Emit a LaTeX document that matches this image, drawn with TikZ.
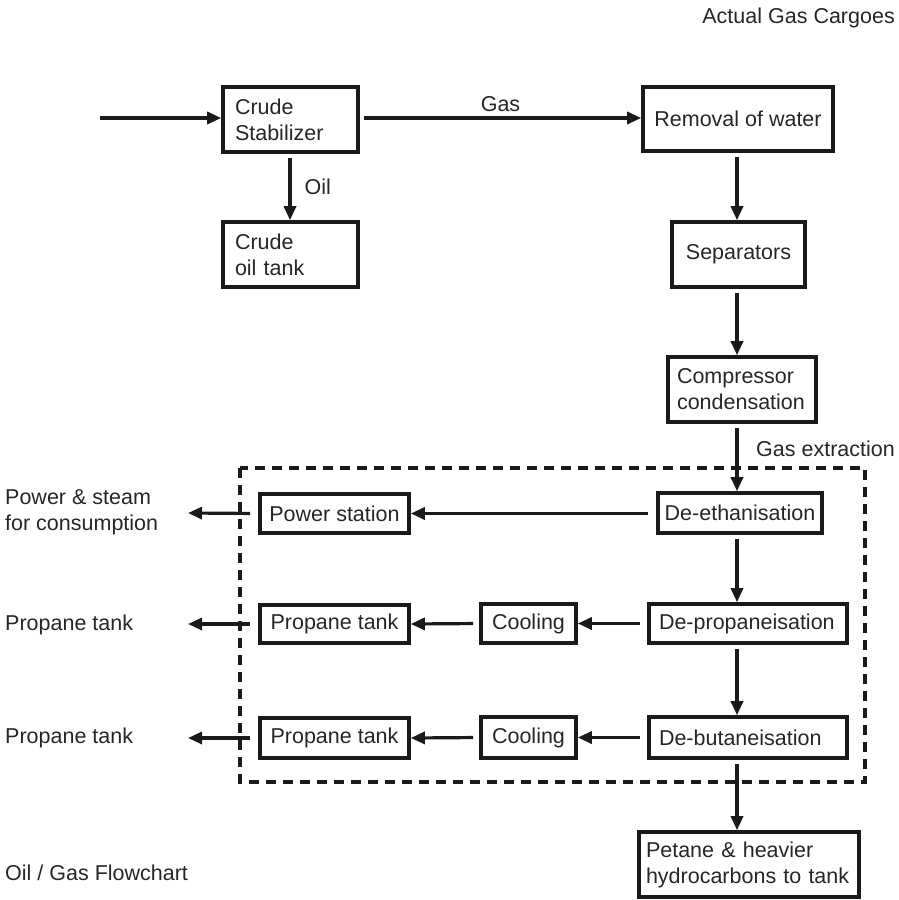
\documentclass[tikz,border=0pt]{standalone}
\usepackage{fontspec}
\setmainfont{Liberation Sans}
\usetikzlibrary{arrows.meta}
\definecolor{ink}{HTML}{1A1A1A}
\definecolor{txt}{HTML}{262626}
\begin{document}
\begin{tikzpicture}[x=1pt,y=-1pt,
  font=\fontsize{21.5}{26}\selectfont,
  every node/.style={text=txt},
  unit/.style={draw=ink,line width=3.6pt,rectangle,inner sep=0pt,anchor=center},
  lbox/.style={unit,align=left,inner xsep=10pt},
  flow/.style={draw=ink,line width=3.2pt,-{Triangle[length=14pt,width=12pt]},shorten <=4pt},
  tag/.style={inner sep=0pt,align=left},
  zone/.style={draw=ink,line width=3.4pt,dash pattern=on 10pt off 7pt}]
\useasboundingbox (0,0) rectangle (898,900);

% column guides for the vertical flows
\coordinate (cL) at (290,0);
\coordinate (cR) at (737,0);

% process units
\node[lbox,minimum width=135pt,minimum height=65pt,text width=111pt,inner xsep=12pt] (cs) at (290.5,119.5) {Crude\\Stabilizer};
\node[lbox,minimum width=135pt,minimum height=65pt,text width=111pt,inner xsep=12pt] (ct) at (290.5,254.5) {Crude\\oil tank};
\node[unit,minimum width=190pt,minimum height=64pt] (rw) at (738,119) {Removal of water};
\node[unit,minimum width=133pt,minimum height=65pt] (sp) at (738.5,254.5) {Separators};
\node[lbox,minimum width=148pt,minimum height=65pt,text width=130pt,inner xsep=9pt] (cc) at (742,389.5) {Compressor\\condensation};
\node[unit,minimum width=164pt,minimum height=40pt] (de) at (740,513) {De-ethanisation};
\node[unit,minimum width=149pt,minimum height=39pt] (ps) at (334.5,513.5) {Power station};
\node[lbox,minimum width=198pt,minimum height=39pt,text width=178pt] (dp) at (748,623.5) {De-propaneisation};
\node[unit,minimum width=95pt,minimum height=39pt] (c1) at (528.5,623.5) {Cooling};
\node[unit,minimum width=149pt,minimum height=38pt] (p1) at (334.5,624) {Propane tank};
\node[lbox,minimum width=198pt,minimum height=41pt,text width=178pt] (db) at (748,737.5) {De-butaneisation};
\node[unit,minimum width=95pt,minimum height=41pt] (c2) at (528.5,737.5) {Cooling};
\node[unit,minimum width=149pt,minimum height=40pt] (p2) at (334.5,738) {Propane tank};
\node[lbox,minimum width=220pt,minimum height=65pt,text width=206pt,inner xsep=7pt] (pt) at (749,864.5) {Petane \& heavier\\hydrocarbons to tank};

% gas extraction area
\draw[zone] (240,468) rectangle (865,782);

% free ends
\coordinate (feed) at (100,118);
\coordinate (o1) at (188,513);
\coordinate (o2) at (188,624);
\coordinate (o3) at (188,738);

% flows
\draw[flow,shorten <=0pt] (feed) -- (feed -| cs.west);
\draw[flow] (cs.east |- feed) -- node[above=5pt,inner sep=0pt] {Gas} (rw.west |- feed);
\draw[flow] (cs.south -| cL) -- node[right=13pt,inner sep=0pt] {Oil} (ct.north -| cL);
\draw[flow] (rw.south -| cR) -- (sp.north -| cR);
\draw[flow] (sp.south -| cR) -- (cc.north -| cR);
\draw[flow] (cc.south -| cR) -- (de.north -| cR);
\draw[flow] (de.south -| cR) -- (dp.north -| cR);
\draw[flow] (dp.south -| cR) -- (db.north -| cR);
\draw[flow] (db.south -| cR) -- (pt.north -| cR);
\draw[flow,shorten <=8pt] (de.west |- ps) -- (ps.east);
\draw[flow,shorten <=7pt] (dp.west) -- (c1.east);
\draw[flow,shorten <=6pt] (c1.west) -- (p1.east);
\draw[flow,shorten <=7pt] (db.west) -- (c2.east);
\draw[flow,shorten <=6pt] (c2.west) -- (p2.east);
\draw[flow,shorten <=8pt] (ps.west) -- (o1);
\draw[flow,shorten <=8pt] (p1.west) -- (o2);
\draw[flow,shorten <=8pt] (p2.west) -- (o3);

% free text
\node[tag,anchor=north east] (title) at (895,8) {Actual Gas Cargoes};
\node[tag,anchor=base east] (gx) at (895,456) {Gas extraction};
\node[tag,anchor=west] (l1) at (5,512) {Power \& steam\\for consumption};
\node[tag,anchor=west] (l2) at (5,625) {Propane tank};
\node[tag,anchor=west] (l3) at (5,738) {Propane tank};
\node[tag,anchor=west] (cap) at (5,873) {Oil / Gas Flowchart};
\end{tikzpicture}
\end{document}
